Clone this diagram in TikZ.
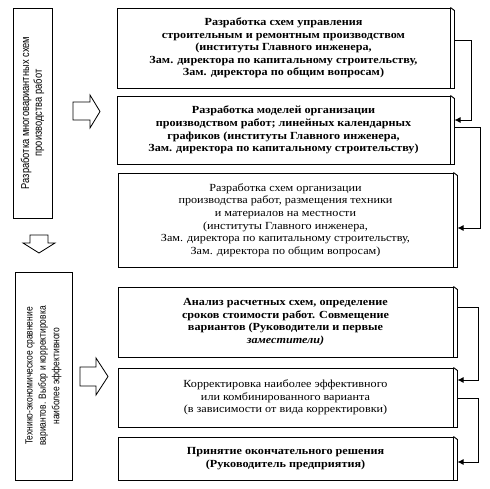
\documentclass[tikz,border=0pt]{standalone}
\usepackage{fontspec}
\setmainfont{Liberation Serif}[FakeStretch=1.12]
\newfontfamily\narrowsans[FakeStretch=0.82]{Liberation Sans}
\usetikzlibrary{arrows.meta,calc}
\def\px{0.034cm}

\begin{document}
\begin{tikzpicture}[x=\px,y=-\px,line width=0.9pt,
  every node/.style={draw,align=center,inner sep=2pt,font=\fontsize{10.5}{12.2}\selectfont},
  heavy/.style={font=\fontsize{10.5}{12.2}\selectfont\bfseries},
  side/.style={rotate=90},
  link/.style={-{Latex[length=6pt,width=6pt]}},
  bigarrow/.style={draw,line width=0.8pt}]
\useasboundingbox (0,0) rectangle (489,489);
% left column
\node[side,font=\narrowsans\fontsize{11}{12.5}\selectfont,minimum width=210*\px,minimum height=39*\px] at(32.5,113)(m){Разработка многовариантных схем\\производства работ};
\node[side,font=\narrowsans\fontsize{10}{13}\selectfont,minimum width=208*\px,minimum height=57*\px] at(43.5,376)(t){Технико-экономическое сравнение\\вариантов. Выбор и корректировка\\наиболее эффективного};
% right column
\node[heavy,minimum width=333*\px,minimum height=80*\px] at(283.5,48)(a){Разработка схем управления\\строительным и ремонтным производством\\(институты Главного инженера,\\Зам. директора по капитальному строительству,\\Зам. директора по общим вопросам)};
\node[heavy,minimum width=333*\px,minimum height=68*\px] at(283.5,130)(b){Разработка моделей организации\\производством работ; линейных календарных\\графиков (институты Главного инженера,\\Зам. директора по капитальному строительству)};
\node[minimum width=335*\px,minimum height=94*\px] at(285.5,220)(c){Разработка схем организации\\производства работ, размещения техники\\и материалов на местности\\(институты Главного инженера,\\Зам. директора по капитальному строительству,\\Зам. директора по общим вопросам)};
\node[heavy,minimum width=335*\px,minimum height=70*\px] at(285.5,322)(d){Анализ расчетных схем, определение\\сроков стоимости работ. Совмещение\\вариантов (Руководители и первые\\\textit{заместители)}};
\node[minimum width=335*\px,minimum height=59*\px] at(285.5,397.5)(e){Корректировка наиболее эффективного\\или комбинированного варианта\\(в зависимости от вида корректировки)};
\node[heavy,minimum width=335*\px,minimum height=43*\px] at(285.5,458.5)(f){Принятие окончательного решения\\(Руководитель предприятия)};
% raised right side
\foreach \n in {a,b,c,d,e,f}
  \draw (\n.north east) -- ++(4,3) |- (\n.south east);
% block arrows
\draw[bigarrow] (73,102)--(90,102)--(90,95)--(100,111.5)--(90,128)--(90,120)--(73,120)--cycle;
\draw[bigarrow] (30,235)--(48,235)--(48,243)--(55,243)--(39,253)--(23,243)--(30,243)--cycle;
\draw[bigarrow] (80,367)--(96,367)--(96,358)--(108,376.5)--(96,395)--(96,386)--(80,386)--cycle;
% links
\draw[link] ($(a.east|-0,40)+(4,0)$) -- ++(17,0) |- ($(b.east|-0,120)+(4,0)$);
\draw[link] ($(b.east|-0,127)+(4,0)$) -- ++(26,0) |- ($(c.east|-0,228)+(4,0)$);
\draw[link] ($(d.east|-0,307)+(4,0)$) -- ++(21,0) |- ($(e.east|-0,380)+(4,0)$);
\draw[link] ($(e.east|-0,398)+(4,0)$) -- ++(21,0) |- ($(f.east|-0,462)+(4,0)$);
\end{tikzpicture}
\end{document}
